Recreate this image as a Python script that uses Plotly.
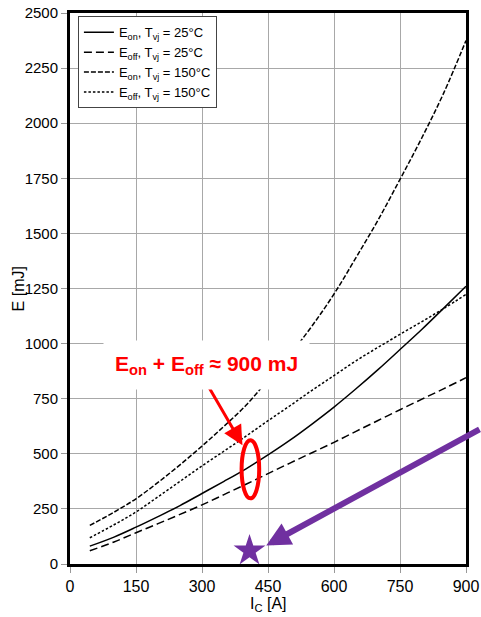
import plotly.graph_objects as go

# ---- data ----
current_a = [45, 100, 150, 200, 250, 300, 350, 400, 450, 500, 550, 600, 650, 700, 750, 800, 850, 900]
eon_25 = [81, 122, 167, 215, 265, 320, 375, 432, 495, 562, 635, 712, 795, 882, 973, 1065, 1162, 1260]
eoff_25 = [60, 100, 142, 183, 225, 268, 315, 362, 410, 458, 505, 552, 602, 651, 700, 748, 796, 845]
eon_150 = [175, 235, 296, 370, 450, 535, 625, 720, 835, 950, 1080, 1225, 1390, 1560, 1745, 1935, 2140, 2375]
eoff_150 = [119, 178, 236, 305, 375, 445, 512, 580, 650, 718, 788, 855, 922, 983, 1042, 1100, 1160, 1223]

series_names = [
    "E<sub>on</sub>, T<sub>vj</sub> = 25°C",
    "E<sub>off</sub>, T<sub>vj</sub> = 25°C",
    "E<sub>on</sub>, T<sub>vj</sub> = 150°C",
    "E<sub>off</sub>, T<sub>vj</sub> = 150°C",
]
series_values = [eon_25, eoff_25, eon_150, eoff_150]
series_dash = ["solid", "8px,4px", "5px,2px", "2.5px,2px"]

star_x = [408]
star_y = [60]

x_ticks = [0, 150, 300, 450, 600, 750, 900]
y_ticks = [0, 250, 500, 750, 1000, 1250, 1500, 1750, 2000, 2250, 2500]

FONT = "Liberation Sans, Arial, sans-serif"
PURPLE = "#7030A0"
RED = "#FF0000"

fig = go.Figure()
for name, vals, dash in zip(series_names, series_values, series_dash):
    fig.add_trace(go.Scatter(
        x=current_a, y=vals, mode="lines", name=name,
        line=dict(color="black", width=1.5, dash=dash, shape="spline"),
    ))

fig.add_trace(go.Scatter(
    x=star_x, y=star_y, mode="markers", showlegend=False,
    marker=dict(symbol="star", size=24, color=PURPLE, line=dict(width=0)),
))

fig.update_xaxes(
    range=[0, 900], tickvals=x_ticks, ticks="outside", ticklen=6, tickcolor="#999999",
    showgrid=True, gridcolor="#A8A8A8", gridwidth=1.3,
    showline=True, linecolor="black", linewidth=3, mirror=True,
    tickfont=dict(family=FONT, size=16, color="black"), zeroline=False,
    automargin=False,
)
fig.update_yaxes(
    range=[0, 2500], tickvals=y_ticks, ticks="outside", ticklen=6, tickcolor="#999999",
    showgrid=True, gridcolor="#A8A8A8", gridwidth=1.3,
    showline=True, linecolor="black", linewidth=3, mirror=True,
    tickfont=dict(family=FONT, size=15, color="black"), zeroline=False,
    automargin=False,
)

fig.update_layout(
    width=481, height=617,
    margin=dict(l=70, r=15, t=13, b=53),
    plot_bgcolor="white", paper_bgcolor="white",
    font=dict(family=FONT, color="black"),
    legend=dict(
        x=0.02, y=0.994, xanchor="left", yanchor="top",
        bgcolor="white", bordercolor="#444444", borderwidth=1,
        font=dict(family=FONT, size=13, color="black"),
        itemwidth=30, tracegroupgap=0,
    ),
    shapes=[dict(
        type="circle", xref="x", yref="y", x0=390, x1=430, y0=298, y1=562,
        line=dict(color=RED, width=4), layer="above",
    )],
    annotations=[
        # axis titles
        dict(xref="paper", yref="paper", x=0.5, y=-0.0744, text="I<sub>C</sub> [A]",
             showarrow=False, font=dict(family=FONT, size=16), yanchor="middle"),
        dict(xref="paper", yref="paper", x=-0.129, y=0.5, text="E [mJ]", textangle=-90,
             showarrow=False, font=dict(family=FONT, size=16), xanchor="center"),
        # red arrow
        dict(xref="x", yref="y", x=392, y=539, axref="x", ayref="y", ax=313, ay=811,
             text="", showarrow=True, arrowcolor=RED, arrowwidth=3, arrowhead=2, arrowsize=1.3),
        # red label
        dict(xref="x", yref="y", x=310, y=902,
             text="<b>E<sub>on</sub> + E<sub>off</sub> ≈ 900 mJ</b>",
             showarrow=False, bgcolor="white", borderpad=11,
             font=dict(family=FONT, size=21, color=RED)),
        # purple arrow
        dict(xref="x", yref="y", x=446, y=84, ax=228, ay=-117,
             text="", showarrow=True, arrowcolor=PURPLE, arrowwidth=6, arrowhead=2, arrowsize=0.8),
    ],
)

fig.write_html(
    "out.html",
    config={"displayModeBar": False},
    post_script="document.body.style.margin='0';document.body.style.overflow='hidden';",
)
